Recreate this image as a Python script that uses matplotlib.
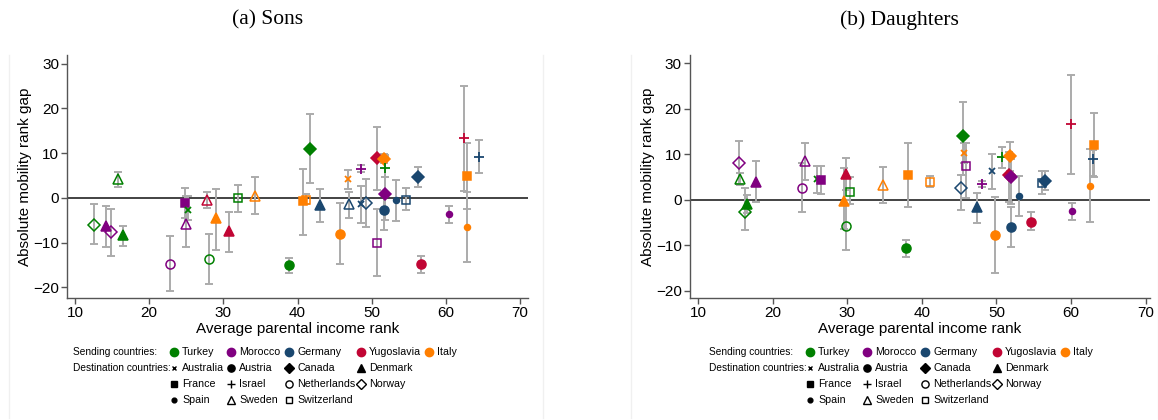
import matplotlib.pyplot as plt

# Sons: sending country, destination country, parental rank, gap, CI low, CI high
sons_sending = ['Turkey', 'Morocco', 'Morocco', 'Turkey', 'Turkey', 'Morocco', 'Morocco',
                'Turkey', 'Morocco', 'Yugoslavia', 'Turkey', 'Italy', 'Yugoslavia', 'Turkey',
                'Italy', 'Turkey', 'Italy', 'Italy', 'Turkey', 'Germany', 'Italy', 'Italy',
                'Germany', 'Morocco', 'Germany', 'Germany', 'Morocco', 'Yugoslavia', 'Italy',
                'Turkey', 'Morocco', 'Germany', 'Germany', 'Germany', 'Germany', 'Yugoslavia',
                'Morocco', 'Yugoslavia', 'Italy', 'Italy', 'Germany']
sons_dest = ['Norway', 'Denmark', 'Norway', 'Sweden', 'Denmark', 'Netherlands', 'France',
             'Australia', 'Sweden', 'Sweden', 'Netherlands', 'Denmark', 'Denmark', 'Switzerland',
             'Sweden', 'Austria', 'France', 'Switzerland', 'Canada', 'Denmark', 'Austria',
             'Australia', 'Sweden', 'Israel', 'Australia', 'Norway', 'Switzerland', 'Canada',
             'Canada', 'Israel', 'Canada', 'Austria', 'Spain', 'Switzerland', 'Canada', 'Austria',
             'Spain', 'Israel', 'Spain', 'France', 'Israel']
sons_x = [12.5, 14.2, 14.8, 15.8, 16.5, 22.8, 24.8, 25.2, 25.0, 27.8, 28.0, 29.0, 30.8, 32.0,
          34.3, 38.8, 40.8, 41.2, 41.7, 43.1, 45.7, 46.8, 47.0, 48.6, 48.6, 49.3, 50.7, 50.7,
          51.6, 51.8, 51.8, 51.7, 53.3, 54.6, 56.2, 56.7, 60.4, 62.4, 62.8, 62.9, 64.5]
sons_y = [-6.0, -6.3, -7.7, 4.1, -8.4, -14.7, -1.2, -2.8, -5.9, -0.4, -13.7, -4.6, -7.5, -0.1,
          0.5, -15.1, -0.7, -0.4, 10.9, -1.6, -8.0, 4.1, -1.5, 6.4, -1.3, -1.1, -10.0, 8.8,
          8.7, 6.7, 0.8, -2.8, -0.6, -0.4, 4.6, -14.9, -3.7, 13.3, -6.5, 4.8, 9.2]
sons_lo = [-10.4, -11.1, -13.0, 2.5, -10.7, -20.8, -4.5, -5.0, -11.0, -2.2, -19.2, -11.6, -12.2,
           -3.1, -3.7, -16.9, -8.4, -1.3, 3.4, -5.5, -14.8, 1.9, -4.5, 5.7, -5.6, -6.6, -17.5,
           1.7, 7.7, 4.6, -5.0, -7.1, -5.1, -2.8, 2.3, -16.9, -5.7, 1.6, -14.4, -2.6, 5.5]
sons_hi = [-1.5, -1.9, -2.5, 5.7, -6.3, -8.5, 2.1, 0.5, 0.4, 1.2, -8.0, 2.0, -3.1, 2.8,
           4.7, -13.4, 6.5, 0.8, 18.7, 1.9, -1.1, 6.3, 1.3, 7.3, 2.6, 4.3, -2.6, 15.9,
           9.8, 9.0, 9.6, 1.0, 4.0, 2.1, 6.8, -13.1, -1.9, 25.0, 1.3, 12.2, 12.9]

# Daughters
dau_sending = ['Morocco', 'Turkey', 'Turkey', 'Turkey', 'Morocco', 'Morocco', 'Morocco',
               'Turkey', 'Morocco', 'Yugoslavia', 'Italy', 'Turkey', 'Turkey', 'Italy', 'Turkey',
               'Italy', 'Italy', 'Germany', 'Turkey', 'Italy', 'Morocco', 'Germany', 'Morocco',
               'Germany', 'Italy', 'Turkey', 'Italy', 'Yugoslavia', 'Morocco', 'Germany',
               'Germany', 'Yugoslavia', 'Germany', 'Germany', 'Morocco', 'Yugoslavia', 'Italy',
               'Germany', 'Italy']
dau_dest = ['Norway', 'Sweden', 'Norway', 'Denmark', 'Denmark', 'Netherlands', 'Sweden',
            'Australia', 'France', 'Denmark', 'Denmark', 'Netherlands', 'Switzerland', 'Sweden',
            'Austria', 'France', 'Switzerland', 'Norway', 'Canada', 'Australia', 'Switzerland',
            'Denmark', 'Israel', 'Australia', 'Austria', 'Israel', 'Canada', 'Canada', 'Canada',
            'Austria', 'Spain', 'Austria', 'Switzerland', 'Canada', 'Spain', 'Israel', 'Spain',
            'Israel', 'France']
dau_x = [15.4, 15.6, 16.3, 16.6, 17.8, 23.9, 24.3, 25.9, 26.5, 29.8, 29.6, 29.8, 30.3, 34.8,
         37.8, 38.2, 41.1, 45.2, 45.5, 45.6, 45.9, 47.4, 48.1, 49.4, 49.8, 50.7, 51.8, 51.7,
         51.9, 51.9, 53.0, 54.6, 56.1, 56.5, 60.1, 60.0, 62.5, 62.9, 63.1]
dau_y = [8.1, 4.6, -2.7, -1.0, 4.0, 2.6, 8.5, 4.5, 4.3, 5.6, -0.2, -5.8, 1.8, 3.2,
         -10.7, 5.4, 4.0, 2.5, 14.0, 10.2, 7.4, -1.6, 3.4, 6.2, -7.7, 9.3, 9.5, 5.5,
         5.0, -6.1, 0.9, -4.8, 3.7, 4.1, -2.5, 16.6, 3.0, 9.0, 12.0]
dau_lo = [3.4, 3.2, -6.7, -3.0, -0.6, -2.8, 4.3, 1.4, 1.2, 2.1, -6.5, -11.1, -1.0, -0.8,
          -12.5, -1.5, 2.7, -2.2, 5.4, 8.0, 0.3, -5.2, 2.7, 2.3, -16.0, 6.9, 6.2, -0.4,
          -1.0, -10.5, -3.5, -6.7, 1.2, 2.1, -4.4, 5.6, -4.8, 5.3, 5.1]
dau_hi = [12.9, 5.8, 2.5, 1.0, 8.4, 8.0, 12.4, 7.4, 7.3, 9.2, 6.9, 0.0, 5.1, 7.1,
          -8.9, 12.5, 5.3, 5.4, 21.5, 12.4, 12.4, 1.5, 4.2, 10.1, 0.7, 11.6, 12.7, 10.5,
          9.0, -1.7, 5.2, -2.8, 6.3, 6.2, -0.7, 27.4, 11.1, 10.9, 19.1]

sending_order = ['Turkey', 'Morocco', 'Germany', 'Yugoslavia', 'Italy']
dest_grid = [['Australia', 'Austria', 'Canada', 'Denmark'],
             ['France', 'Israel', 'Netherlands', 'Norway'],
             ['Spain', 'Sweden', 'Switzerland']]

colors = {'Turkey': '#008000', 'Morocco': '#800080', 'Germany': '#1a476f',
          'Yugoslavia': '#c10534', 'Italy': '#ff7f00'}
# marker, size, filled
styles = {'Australia': ('x', 3.8, True), 'Austria': ('o', 6.5, True),
          'Canada': ('D', 6.0, True), 'Denmark': ('^', 7.0, True),
          'France': ('s', 6.0, True), 'Israel': ('+', 6.5, True),
          'Netherlands': ('o', 6.5, False), 'Norway': ('D', 6.0, False),
          'Spain': ('o', 4.3, True), 'Sweden': ('^', 7.0, False),
          'Switzerland': ('s', 6.0, False)}

plt.rcParams['font.family'] = ['Liberation Sans', 'DejaVu Sans']

fig = plt.figure(figsize=(11.58, 4.2), dpi=100)
W, H = 1158, 420


def draw_panel(ax, sending, dest, xs, ys, lo, hi, xlim, ylim):
    ax.axhline(0, color='#222222', lw=1.2, zorder=1)
    for x, y, l, h in zip(xs, ys, lo, hi):
        ax.errorbar(x, y, yerr=[[y - l], [h - y]], fmt='none', ecolor='#ababab',
                    elinewidth=1.4, capsize=2.8, capthick=1.4, zorder=2)
    for s, d, x, y in zip(sending, dest, xs, ys):
        m, ms, filled = styles[d]
        c = colors[s]
        ax.plot(x, y, marker=m, ms=ms, color=c, mec=c,
                mfc=c if filled else 'none',
                mew=1.1 if m not in ('x', '+') else 1.3, ls='none', zorder=3)
    ax.set_xlim(*xlim)
    ax.set_ylim(*ylim)
    ax.set_xticks(range(10, 71, 10))
    ax.set_yticks(range(-20, 31, 10))
    for sp in ['top', 'right']:
        ax.spines[sp].set_visible(False)
    for sp in ['left', 'bottom']:
        ax.spines[sp].set_color('#555555')
        ax.spines[sp].set_linewidth(1.0)
    ax.tick_params(direction='out', length=4, width=1, color='#555555',
                   labelsize=11, pad=2)
    ax.set_xlabel('Average parental income rank', fontsize=11, labelpad=1)
    ax.set_ylabel('Absolute mobility rank gap', fontsize=11)
    ax.yaxis.set_label_coords(-0.076, 0.5)


ax1 = fig.add_axes([67.3 / W, 1 - 298 / H, (528 - 67.3) / W, 243 / H])
draw_panel(ax1, sons_sending, sons_dest, sons_x, sons_y, sons_lo, sons_hi,
           (8.96, 71.08), (-22.4, 31.9))
ax2 = fig.add_axes([690 / W, 1 - 298 / H, (1150 - 690) / W, 243 / H])
draw_panel(ax2, dau_sending, dau_dest, dau_x, dau_y, dau_lo, dau_hi,
           (8.89, 70.6), (-21.6, 31.8))

# titles
fig.text(268 / W, 1 - 20 / H, '(a) Sons', ha='center', va='center', fontsize=15.5,
         family=['Liberation Serif', 'DejaVu Serif'])
fig.text(899 / W, 1 - 20 / H, '(b) Daughters', ha='center', va='center', fontsize=15.5,
         family=['Liberation Serif', 'DejaVu Serif'])

# legends drawn in pixel space
lax = fig.add_axes([0, 0, 1, 1], zorder=-1)
lax.set_xlim(0, W)
lax.set_ylim(H, 0)
lax.axis('off')

# faint panel borders
for x0, x1 in [(9, 543), (631, 1158)]:
    lax.plot([x0, x0], [55, 418], color='#f0f0f0', lw=1)
    lax.plot([x1, x1], [55, 418], color='#f0f0f0', lw=1)

col_x = [174, 231, 289, 361, 429]
row_y = [352, 368, 384, 400]
fs = 7.7
for off in (0, 636):
    lax.text(73 + off, row_y[0], 'Sending countries:', fontsize=7.3, va='center')
    lax.text(73 + off, row_y[1], 'Destination countries:', fontsize=7.3, va='center')
    for i, s in enumerate(sending_order):
        lax.plot(col_x[i] + off, row_y[0], 'o', ms=6, color=colors[s])
        lax.text(col_x[i] + off + 8, row_y[0], s, fontsize=fs, va='center')
    for r, row in enumerate(dest_grid):
        for i, d in enumerate(row):
            m, ms, filled = styles[d]
            lax.plot(col_x[i] + off, row_y[r + 1], marker=m, ms=ms * 0.8, color='black',
                     mfc='black' if filled else 'none', mew=1.0, ls='none')
            lax.text(col_x[i] + off + 8, row_y[r + 1], d, fontsize=fs, va='center')

fig.savefig('out.png', dpi=100, facecolor='white')
